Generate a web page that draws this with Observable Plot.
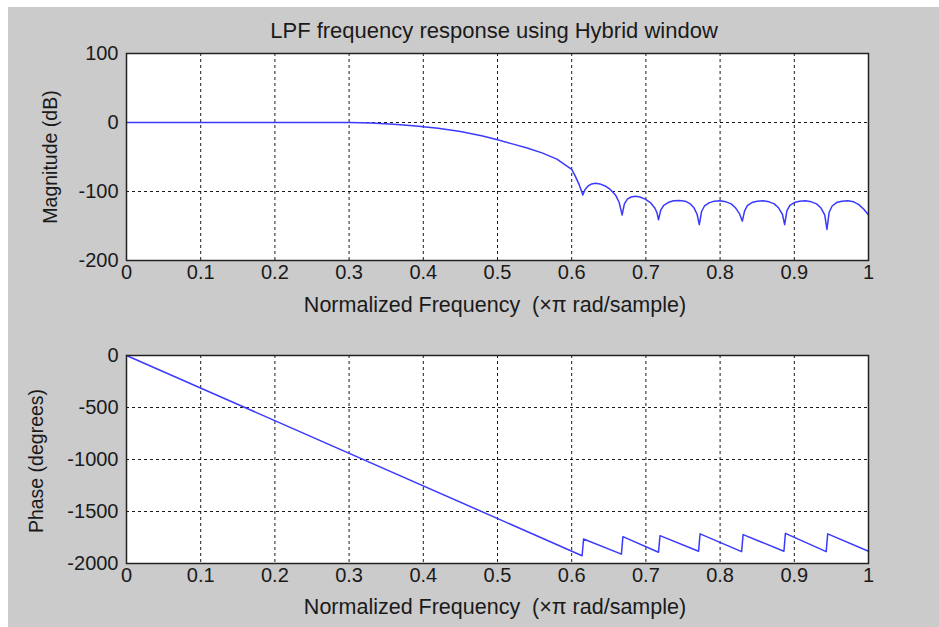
<!DOCTYPE html>
<html>
<head>
<meta charset="utf-8">
<script src="https://cdn.jsdelivr.net/npm/d3@7"></script>
<script src="https://cdn.jsdelivr.net/npm/@observablehq/plot@0.6"></script>
<style>
  html, body { margin: 0; padding: 0; background: #ffffff; }
  #page { position: relative; width: 939px; height: 627px; overflow: hidden; background: #ffffff; }
  #bg { position: absolute; left: 8px; top: 7px; right: 0; bottom: 0; background: #cbcbcb; }
  .txt { position: absolute; font-family: "Liberation Sans", Arial, sans-serif; color: #1a1a1a; white-space: pre; }
  .plot { position: absolute; left: 0; }
</style>
</head>
<body>
<div id="page">
  <div id="bg"></div>
  <div id="p1" class="plot" style="top:0px"></div>
  <div id="p2" class="plot" style="top:300px"></div>
  <div class="txt" id="title" style="font-size:22px; left:494px; top:31px; transform:translate(-50%,-50%);"></div>
  <div class="txt" id="xl1" style="font-size:21.5px; left:495px; top:305px; transform:translate(-50%,-50%);"></div>
  <div class="txt" id="xl2" style="font-size:21.5px; left:495px; top:607px; transform:translate(-50%,-50%);"></div>
  <div class="txt" id="yl1" style="font-size:19.5px; left:50px; top:157px; transform:translate(-50%,-50%) rotate(-90deg);"></div>
  <div class="txt" id="yl2" style="font-size:19.5px; left:36px; top:461px; transform:translate(-50%,-50%) rotate(-90deg);"></div>
</div>
<script>
// ---- text ----
const titleText = "LPF frequency response using Hybrid window";
const xLabel = "Normalized Frequency  (\u00d7\u03c0 rad/sample)";
const magLabel = "Magnitude (dB)";
const phaseLabel = "Phase (degrees)";

// ---- ticks ----
const xTicks = [0, 0.1, 0.2, 0.3, 0.4, 0.5, 0.6, 0.7, 0.8, 0.9, 1];
const xTickLabels = ["0", "0.1", "0.2", "0.3", "0.4", "0.5", "0.6", "0.7", "0.8", "0.9", "1"];
const magTicks = [-200, -100, 0, 100];
const magTickLabels = ["-200", "-100", "0", "100"];
const phaseTicks = [-2000, -1500, -1000, -500, 0];
const phaseTickLabels = ["-2000", "-1500", "-1000", "-500", "0"];

// ---- magnitude response ----
const freqMag = [0, 0.1, 0.2, 0.3, 0.33, 0.36, 0.39, 0.42, 0.45, 0.48, 0.5, 0.52, 0.54, 0.56, 0.58, 0.6, 0.605, 0.61, 0.615,
  0.618, 0.622, 0.627, 0.632, 0.638, 0.645, 0.652, 0.659, 0.664, 0.668,
  0.671, 0.675, 0.68, 0.686, 0.692, 0.699, 0.706, 0.712, 0.715, 0.717,
  0.72, 0.724, 0.73, 0.737, 0.745, 0.753, 0.76, 0.765, 0.769, 0.772,
  0.775, 0.779, 0.785, 0.792, 0.8, 0.808, 0.815, 0.821, 0.826, 0.83,
  0.833, 0.837, 0.843, 0.85, 0.858, 0.866, 0.873, 0.879, 0.884, 0.887,
  0.89, 0.894, 0.9, 0.907, 0.915, 0.923, 0.93, 0.936, 0.941, 0.944,
  0.947, 0.951, 0.957, 0.964, 0.972, 0.98, 0.987, 0.994, 1.0];
const magDb = [0, 0, 0, 0, -0.8, -2.5, -5, -8.5, -13, -19.5, -25, -31, -37, -44, -53, -68, -78, -90, -105,
  -97, -92, -89, -88, -89, -92, -97, -105, -116, -134,
  -118, -111, -108, -107, -108, -111, -116, -124, -131, -141,
  -127, -120, -116, -113.5, -113, -114, -118, -124, -133, -148,
  -129, -121, -116.5, -114, -113.5, -115, -118, -124, -132, -143,
  -128, -120, -116, -114, -113.5, -115, -118, -124, -133, -148,
  -128, -120, -116, -114, -113.5, -115, -118, -124, -134, -155,
  -130, -121, -116, -114, -113.5, -115, -119, -126, -134];

// ---- phase response ----
const freqPh = [0, 0.614, 0.616, 0.667, 0.669, 0.717, 0.719, 0.771, 0.773, 0.829, 0.831, 0.886, 0.888, 0.943, 0.945, 1.0];
const phaseDeg = [0, -1925, -1765, -1910, -1742, -1892, -1732, -1882, -1715, -1886, -1722, -1882, -1710, -1886, -1715, -1882];

document.getElementById("title").textContent = titleText;
document.getElementById("xl1").textContent = xLabel;
document.getElementById("xl2").textContent = xLabel;
document.getElementById("yl1").textContent = magLabel;
document.getElementById("yl2").textContent = phaseLabel;

const lineColor = "#3a3aff";
const fontStyle = {fontFamily: "Liberation Sans, Arial, sans-serif", fontSize: "20px", background: "transparent", color: "#1a1a1a", overflow: "visible"};
const xFmt = d => xTickLabels[xTicks.findIndex(t => Math.abs(t - d) < 1e-9)];

function panel({data, yDomain, yTicks, yTickLabels, height, marginTop, marginBottom}) {
  const yFmt = d => yTickLabels[yTicks.indexOf(d)];
  return Plot.plot({
    width: 939,
    height,
    marginLeft: 126,
    marginRight: 71,
    marginTop,
    marginBottom,
    style: fontStyle,
    x: {domain: [0, 1]},
    y: {domain: yDomain},
    marks: [
      Plot.frame({fill: "white", stroke: "none"}),
      Plot.gridX(xTicks, {stroke: "#000", strokeOpacity: 0.9, strokeWidth: 1, strokeDasharray: "3,3"}),
      Plot.gridY(yTicks, {stroke: "#000", strokeOpacity: 0.9, strokeWidth: 1, strokeDasharray: "3,3"}),
      Plot.line(data, {x: "f", y: "v", stroke: lineColor, strokeWidth: 1.5, curve: "linear"}),
      Plot.frame({stroke: "#222", strokeWidth: 1.5}),
      Plot.axisX(xTicks, {tickSize: 0, tickPadding: 4, tickFormat: xFmt, label: null, fill: "#1a1a1a"}),
      Plot.axisY(yTicks, {tickSize: 0, tickPadding: 8, tickFormat: yFmt, label: null, fill: "#1a1a1a"})
    ]
  });
}

const magData = freqMag.map((f, i) => ({f, v: magDb[i]}));
const phData = freqPh.map((f, i) => ({f, v: phaseDeg[i]}));

document.getElementById("p1").appendChild(panel({
  data: magData, yDomain: [-200, 100], yTicks: magTicks, yTickLabels: magTickLabels,
  height: 300, marginTop: 53, marginBottom: 40
}));
document.getElementById("p2").appendChild(panel({
  data: phData, yDomain: [-2000, 0], yTicks: phaseTicks, yTickLabels: phaseTickLabels,
  height: 327, marginTop: 55, marginBottom: 64
}));
</script>
</body>
</html>
